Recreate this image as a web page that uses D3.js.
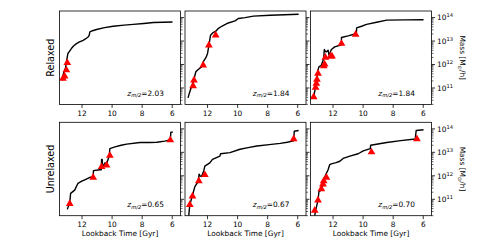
<!DOCTYPE html>
<html><head><meta charset="utf-8">
<script src="https://cdn.jsdelivr.net/npm/d3@7"></script>
<style>body{margin:0;background:#fff}svg{display:block;font-family:"DejaVu Sans",sans-serif}</style>
</head><body><div id="chart"></div>
<script>
// ---- data: [lookback time Gyr, log10 mass] ----
const rowLabels = ["Relaxed", "Unrelaxed"];
const zLabels = ["2.03", "1.84", "1.84", "0.65", "0.67", "0.70"];
const xTicks = [12, 10, 8, 6];
const yMajor = [11, 12, 13, 14];

const line1 = [[13.34,11.33],[13.28,11.36],[13.26,11.55],[13.2,11.69],[13.1,11.85],[13.04,12.11],[12.94,12.47],[12.85,12.55],[12.71,12.68],[12.55,12.8],[12.37,12.89],[12.2,12.95],[11.93,13.03],[11.75,13.1],[11.6,13.17],[11.52,13.25],[11.48,13.39],[11.3,13.44],[11.04,13.49],[10.5,13.57],[9.93,13.63],[9.2,13.68],[8.59,13.71],[7.9,13.75],[7.25,13.79],[6.6,13.8],[5.98,13.81]];
const tri1 = [[13.27,11.40],[13.16,11.50],[13.04,11.76],[12.98,12.07]];

const line2 = [[13.3,10.58],[13.2,10.8],[13.07,11.05],[12.92,11.33],[12.78,11.69],[12.6,11.8],[12.4,11.9],[12.29,12.11],[12.1,12.3],[12.0,12.47],[11.89,12.89],[11.8,13.25],[11.63,13.36],[11.45,13.42],[11.29,13.53],[11.06,13.63],[10.62,13.77],[10.17,13.86],[9.95,13.96],[9.5,14.0],[8.95,14.06],[7.83,14.1],[5.94,14.14]];
const tri2 = [[12.96,11.08],[12.9,11.33],[12.29,11.97],[11.91,12.82],[11.46,13.25]];

const line3 = [[13.29,10.62],[13.16,11.05],[13.07,11.47],[13.0,11.76],[12.94,11.9],[12.78,11.97],[12.62,12.26],[12.58,12.64],[12.5,12.55],[12.44,12.54],[12.33,12.61],[12.27,12.4],[12.2,12.5],[12.11,12.64],[11.89,12.75],[11.55,12.82],[11.44,12.84],[11.44,13.15],[11.0,13.22],[10.55,13.3],[10.45,13.32],[10.43,13.56],[10.1,13.63],[9.77,13.71],[9.1,13.8],[8.43,13.89],[7.2,13.9],[5.98,13.91]];
const tri3 = [[13.29,10.62],[13.16,11.02],[13.11,11.19],[13.07,11.36],[13.0,11.62],[12.62,11.94],[12.56,12.01],[12.51,12.3],[12.17,12.35],[12.07,12.35],[11.44,12.89],[10.5,13.28]];

const line4 = [[12.98,10.57],[12.82,10.86],[12.76,11.25],[12.49,11.39],[12.27,11.68],[12.05,11.76],[11.82,11.83],[11.48,11.93],[11.26,11.97],[11.24,12.22],[10.82,12.26],[10.72,12.26],[10.7,12.7],[10.66,12.7],[10.64,12.36],[10.48,12.55],[10.37,12.51],[10.19,12.84],[10.15,13.16],[9.81,13.23],[9.4,13.3],[9.03,13.35],[8.14,13.42],[7.5,13.42],[7.02,13.43],[6.5,13.48],[6.13,13.53],[6.09,13.86],[5.95,13.86]];
const tri4 = [[12.82,10.81],[11.26,11.93],[10.70,12.38],[10.37,12.45],[10.15,12.86],[6.13,13.52]];

const line5 = [[13.25,10.3],[13.18,10.77],[13.1,10.95],[13.0,11.17],[12.85,11.53],[12.63,11.75],[12.56,12.07],[12.5,12.0],[12.4,11.97],[12.25,12.22],[12.18,12.41],[11.85,12.55],[11.67,12.7],[11.18,12.84],[11.13,12.94],[10.51,12.99],[9.84,13.13],[9.3,13.2],[8.72,13.27],[7.9,13.33],[7.16,13.38],[6.7,13.43],[6.27,13.49],[6.23,13.9],[5.94,13.93]];
const tri5 = [[13.18,10.77],[13.0,11.13],[12.58,11.78],[12.18,12.04],[6.27,13.57]];

const line6 = [[13.22,10.3],[13.16,10.52],[13.0,10.96],[12.94,11.32],[12.78,11.39],[12.67,11.61],[12.62,11.83],[12.49,12.04],[12.33,12.26],[12.22,12.48],[12.11,12.51],[11.8,12.56],[11.55,12.62],[11.33,12.74],[10.88,12.84],[10.33,12.94],[9.99,13.06],[9.52,13.16],[9.5,13.3],[8.43,13.42],[7.5,13.5],[6.53,13.57],[6.47,13.93],[5.98,13.96]];
const tri6 = [[13.22,10.52],[13.0,10.96],[12.78,11.44],[12.67,11.64],[12.62,11.78],[12.44,11.93],[9.44,13.01],[6.42,13.57]];

const lines = [line1, line2, line3, line4, line5, line6];
const tris = [tri1, tri2, tri3, tri4, tri5, tri6];

// ---- layout ----
const W = 479, H = 245;
const colX = [59.5, 185, 310.5], rowY = [11, 122.3];
const pw = 121, ph = 93.4;
const fs = 7.4;

const svg = d3.select("#chart").append("svg").attr("width", W).attr("height", H);

const x = d3.scaleLinear().domain([13.5, 5.45]).range([0, pw]);
const y = d3.scaleLog().domain([Math.pow(10, 10.3), Math.pow(10, 14.28)]).range([ph, 0]);

const minor = [];
for (let e = 10; e <= 14; e++) for (let k = 2; k <= 9; k++) {
  const v = k * Math.pow(10, e);
  if (v >= y.domain()[0] && v <= y.domain()[1]) minor.push(v);
}

const lineGen = d3.line().x(d => x(d[0])).y(d => y(Math.pow(10, d[1])));
const triSym = d3.symbol().type(d3.symbolTriangle).size(26);

for (let i = 0; i < 6; i++) {
  const r = Math.floor(i / 3), c = i % 3;
  const g = svg.append("g").attr("transform", `translate(${colX[c]},${rowY[r]})`);
  const clipId = "clip" + i;
  g.append("clipPath").attr("id", clipId).append("rect").attr("width", pw).attr("height", ph);
  const plot = g.append("g").attr("clip-path", `url(#${clipId})`);
  plot.append("path").datum(lines[i]).attr("d", lineGen)
    .attr("fill", "none").attr("stroke", "#000").attr("stroke-width", 1.4).attr("stroke-linejoin", "round");
  plot.selectAll("path.tri").data(tris[i]).enter().append("path").attr("class", "tri")
    .attr("d", triSym).attr("fill", "#ff0000")
    .attr("transform", d => `translate(${x(d[0])},${y(Math.pow(10, d[1]))})`);

  g.append("rect").attr("width", pw).attr("height", ph).attr("fill", "none")
    .attr("stroke", "#000").attr("stroke-width", 0.8);

  // x ticks
  g.selectAll("line.xt").data(xTicks).enter().append("line")
    .attr("x1", d => x(d)).attr("x2", d => x(d)).attr("y1", ph).attr("y2", ph + 3.5)
    .attr("stroke", "#000").attr("stroke-width", 0.8);
  g.selectAll("text.xt").data(xTicks).enter().append("text")
    .attr("x", d => x(d)).attr("y", ph + 11.2).attr("text-anchor", "middle")
    .attr("font-size", fs).attr("fill", "#000").text(d => d);

  // y ticks on right
  g.selectAll("line.ym").data(yMajor.map(e => Math.pow(10, e))).enter().append("line")
    .attr("x1", pw).attr("x2", pw + 3.5).attr("y1", d => y(d)).attr("y2", d => y(d))
    .attr("stroke", "#000").attr("stroke-width", 0.8);
  g.selectAll("line.yn").data(minor).enter().append("line")
    .attr("x1", pw).attr("x2", pw + 2).attr("y1", d => y(d)).attr("y2", d => y(d))
    .attr("stroke", "#000").attr("stroke-width", 0.6);

  if (c === 2) {
    const lab = g.selectAll("text.yl").data(yMajor).enter().append("text")
      .attr("x", pw + 5.5).attr("y", e => y(Math.pow(10, e)) + 2.7)
      .attr("font-size", fs).attr("fill", "#000");
    lab.append("tspan").text("10");
    lab.append("tspan").attr("dy", -3).attr("font-size", fs * 0.7).text(e => e);
    const ml = g.append("text").attr("transform", `translate(${pw + 28},${ph / 2}) rotate(90)`)
      .attr("text-anchor", "middle").attr("font-size", fs).attr("fill", "#000");
    ml.append("tspan").text("Mass [M");
    ml.append("tspan").attr("dy", 2).attr("font-size", fs * 0.7).text("\u2299");
    ml.append("tspan").attr("dy", -2).text("/h]");
  }

  if (c === 0) {
    g.append("text").attr("transform", `translate(-6,${ph / 2}) rotate(-90)`)
      .attr("text-anchor", "middle").attr("font-size", 9.6).attr("fill", "#000").text(rowLabels[r]);
  }
  if (r === 1) {
    g.append("text").attr("x", pw / 2).attr("y", ph + 20.5).attr("text-anchor", "middle")
      .attr("font-size", fs).attr("fill", "#000").text("Lookback Time [Gyr]");
  }

  const zt = g.append("text").attr("x", pw * 0.56).attr("y", ph * 0.9 + 0.5)
    .attr("font-size", fs).attr("fill", "#000");
  zt.append("tspan").attr("font-style", "italic").text("z");
  zt.append("tspan").attr("dy", 1.8).attr("font-size", fs * 0.7).attr("font-style", "italic").text("m/2");
  zt.append("tspan").attr("dy", -1.8).text("=" + zLabels[i]);
}
</script></body></html>
